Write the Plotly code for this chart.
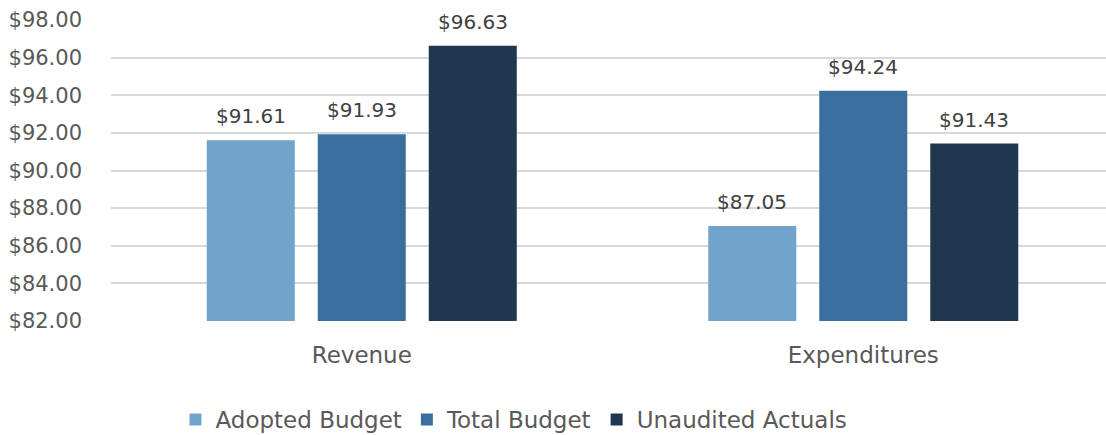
import plotly.graph_objects as go

categories = ["Revenue", "Expenditures"]
series_names = ["Adopted Budget", "Total Budget", "Unaudited Actuals"]
adopted = [91.61, 87.05]
total = [91.93, 94.24]
actuals = [96.63, 91.43]
colors = ["#70A4CD", "#3A6F9D", "#1F374F"]
y_ticks = [82, 84, 86, 88, 90, 92, 94, 96, 98]

FONT = "DejaVu Sans, sans-serif"
BARGAP = 0.336
BARGROUPGAP = 0.207
PX_PER_CAT = 501.5

fig = go.Figure()
series = [adopted, total, actuals]
for name, vals, col in zip(series_names, series, colors):
    fig.add_trace(go.Bar(
        name=name, x=categories, y=vals, marker_color=col,
        marker_line_width=0,
    ))

slot_px = (1 - BARGAP) / len(series) * PX_PER_CAT
for i, vals in enumerate(series):
    for cat, v in zip(categories, vals):
        fig.add_annotation(
            x=cat, y=v, text=f"${v:.2f}", showarrow=False,
            xanchor="center", yanchor="bottom",
            xshift=(i - (len(series) - 1) / 2) * slot_px, yshift=10,
            font=dict(size=20, color="#404040", family=FONT),
        )

fig.update_layout(
    width=1106, height=435,
    margin=dict(l=111, r=0, t=20, b=113.5, autoexpand=False),
    paper_bgcolor="white", plot_bgcolor="white",
    barmode="group", bargap=BARGAP, bargroupgap=BARGROUPGAP,
    font=dict(family=FONT, color="#595959", size=20),
    showlegend=True,
    legend=dict(orientation="h", x=0.405, xanchor="center", y=-0.327, yanchor="middle",
                font=dict(size=23, color="#595959", family=FONT), itemwidth=30,
                traceorder="normal"),
)
fig.update_yaxes(range=[82, 98], tickvals=y_ticks,
                 ticktext=[f"${v:.2f}" for v in y_ticks],
                 showgrid=True, gridcolor="#D9D9D9", gridwidth=1.5,
                 zeroline=False, showline=False, ticklabelstandoff=28,
                 automargin=False,
                 tickfont=dict(size=21, color="#595959", family=FONT))
fig.update_xaxes(range=[-0.5, 1.484], showgrid=False, showline=False,
                 ticklabelstandoff=18, automargin=False,
                 tickfont=dict(size=23, color="#595959", family=FONT))

fig.write_html("out.html", config={"displayModeBar": False},
               post_script="document.body.style.margin='0';")
